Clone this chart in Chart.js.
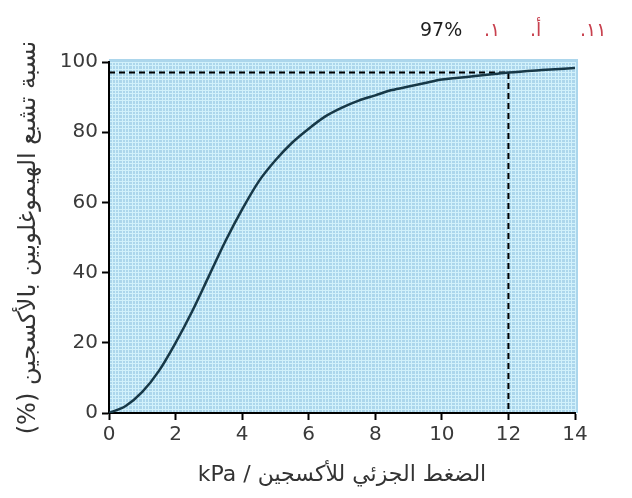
<!DOCTYPE html>
<html lang="ar">
<head>
<meta charset="utf-8">
<script src="https://cdn.jsdelivr.net/npm/chart.js@4.4.1/dist/chart.umd.min.js"></script>
<style>
  html, body { margin: 0; padding: 0; background: #ffffff; }
  #wrap { position: relative; width: 632px; height: 498px; }
  #chart { position: absolute; left: 0; top: 0; }
  .hd { position: absolute; top: 16px; font-family: "DejaVu Sans", sans-serif; font-size: 19px; line-height: 26px; white-space: nowrap; }
  .hd.num { color: #1e1e1e; }
  .hd.q { color: #c8404e; direction: rtl; unicode-bidi: isolate; }
</style>
</head>
<body>
<div id="wrap">
  <canvas id="chart" width="632" height="498"></canvas>
  <span class="hd num" style="left:420px">97%</span>
  <span class="hd q" style="left:484px">١.</span>
  <span class="hd q" style="left:530px">أ.</span>
  <span class="hd q" style="left:580px">١١.</span>
</div>
<script>
// Oxygen partial pressure (kPa) and haemoglobin saturation (%)
const pressureKPa = [0, 0.5, 1, 1.5, 2, 2.5, 3, 3.5, 4, 4.5, 5, 5.5, 6, 6.5, 7, 7.5, 8, 8.5, 9, 9.5, 10, 10.5, 11, 11.5, 12, 13, 14];
const saturation  = [0, 2, 6, 12, 20, 29, 39, 49, 58, 66, 72, 77, 81, 84.5, 87, 89, 90.5, 92, 93, 94, 95, 95.5, 96, 96.5, 97, 97.7, 98.3];

// Reading marked on the curve
const markPressure = 12;
const markSaturation = 97;

// Axis ticks
const xTicks = [0, 2, 4, 6, 8, 10, 12, 14];
const yTicks = [0, 20, 40, 60, 80, 100];

// Arabic axis titles, wrapped in a right-to-left embedding for the canvas
const RLE = '\u202B', PDF = '\u202C';
const xTitle = RLE + 'الضغط الجزئي للأكسجين / kPa' + PDF;
const yTitle = RLE + 'نسبة تشبع الهيموغلوبين بالأكسجين (%)' + PDF;

const curvePoints = pressureKPa.map((p, i) => ({ x: p, y: saturation[i] }));
const markPoints = [
  { x: 0, y: markSaturation },
  { x: markPressure, y: markSaturation },
  { x: markPressure, y: 0 }
];

const tickFont = { family: 'DejaVu Sans', size: 20 };
const paperBlue = '#acd6ec';
const paperLine = '#d2f1fb';

// light-blue graph paper behind the plot
const paperPlugin = {
  id: 'paper',
  beforeDraw(chart) {
    const { ctx, chartArea: a } = chart;
    ctx.save();
    ctx.fillStyle = paperBlue;
    ctx.fillRect(a.left, a.top - 3, a.right - a.left + 3, a.bottom - a.top + 3);
    ctx.restore();
  }
};

new Chart(document.getElementById('chart'), {
  type: 'scatter',
  data: {
    datasets: [
      {
        data: curvePoints,
        showLine: true,
        borderColor: '#173847',
        borderWidth: 2.5,
        pointRadius: 0,
        cubicInterpolationMode: 'monotone',
        fill: false
      },
      {
        data: markPoints,
        showLine: true,
        borderColor: '#000000',
        borderWidth: 2,
        borderDash: [6, 4],
        pointRadius: 0,
        tension: 0,
        fill: false
      }
    ]
  },
  options: {
    responsive: false,
    animation: false,
    events: [],
    layout: { padding: { top: 62, right: 57, left: 0, bottom: 0 } },
    plugins: { legend: { display: false }, tooltip: { enabled: false }, title: { display: false } },
    scales: {
      xMinor: {
        type: 'linear', position: 'bottom', min: 0, max: 14,
        ticks: { display: false, stepSize: 0.1 },
        grid: { color: paperLine, lineWidth: 1, drawTicks: false },
        border: { display: false },
        afterFit(s) { s.height = 0; }
      },
      yMinor: {
        type: 'linear', position: 'left', min: 0, max: 100,
        ticks: { display: false, stepSize: 1 },
        grid: { color: paperLine, lineWidth: 1, drawTicks: false },
        border: { display: false },
        afterFit(s) { s.width = 0; }
      },
      x: {
        type: 'linear', position: 'bottom', min: 0, max: 14, z: 1,
        afterBuildTicks(s) { s.ticks = xTicks.map(v => ({ value: v })); },
        ticks: { font: tickFont, color: '#3a3a3a', padding: 3 },
        grid: { display: true, drawOnChartArea: false, drawTicks: true, tickLength: 7, tickWidth: 2, color: '#000' },
        border: { display: true, color: '#000', width: 2 },
        title: { display: true, text: xTitle, font: { family: 'DejaVu Sans', size: 22 }, color: '#333', padding: { top: 0, bottom: 10 } },
        afterFit(s) { s.height = 85; }
      },
      y: {
        type: 'linear', position: 'left', min: 0, max: 100, z: 1,
        afterBuildTicks(s) { s.ticks = yTicks.map(v => ({ value: v })); },
        ticks: { font: tickFont, color: '#3a3a3a', padding: 4 },
        grid: { display: true, drawOnChartArea: false, drawTicks: true, tickLength: 7, tickWidth: 2, color: '#000' },
        border: { display: true, color: '#000', width: 2 },
        title: { display: true, text: yTitle, font: { family: 'DejaVu Sans', size: 24 }, color: '#333', padding: { top: 14, bottom: 0 } },
        afterFit(s) { s.width = 109; }
      }
    }
  },
  plugins: [paperPlugin]
});
</script>
</body>
</html>
